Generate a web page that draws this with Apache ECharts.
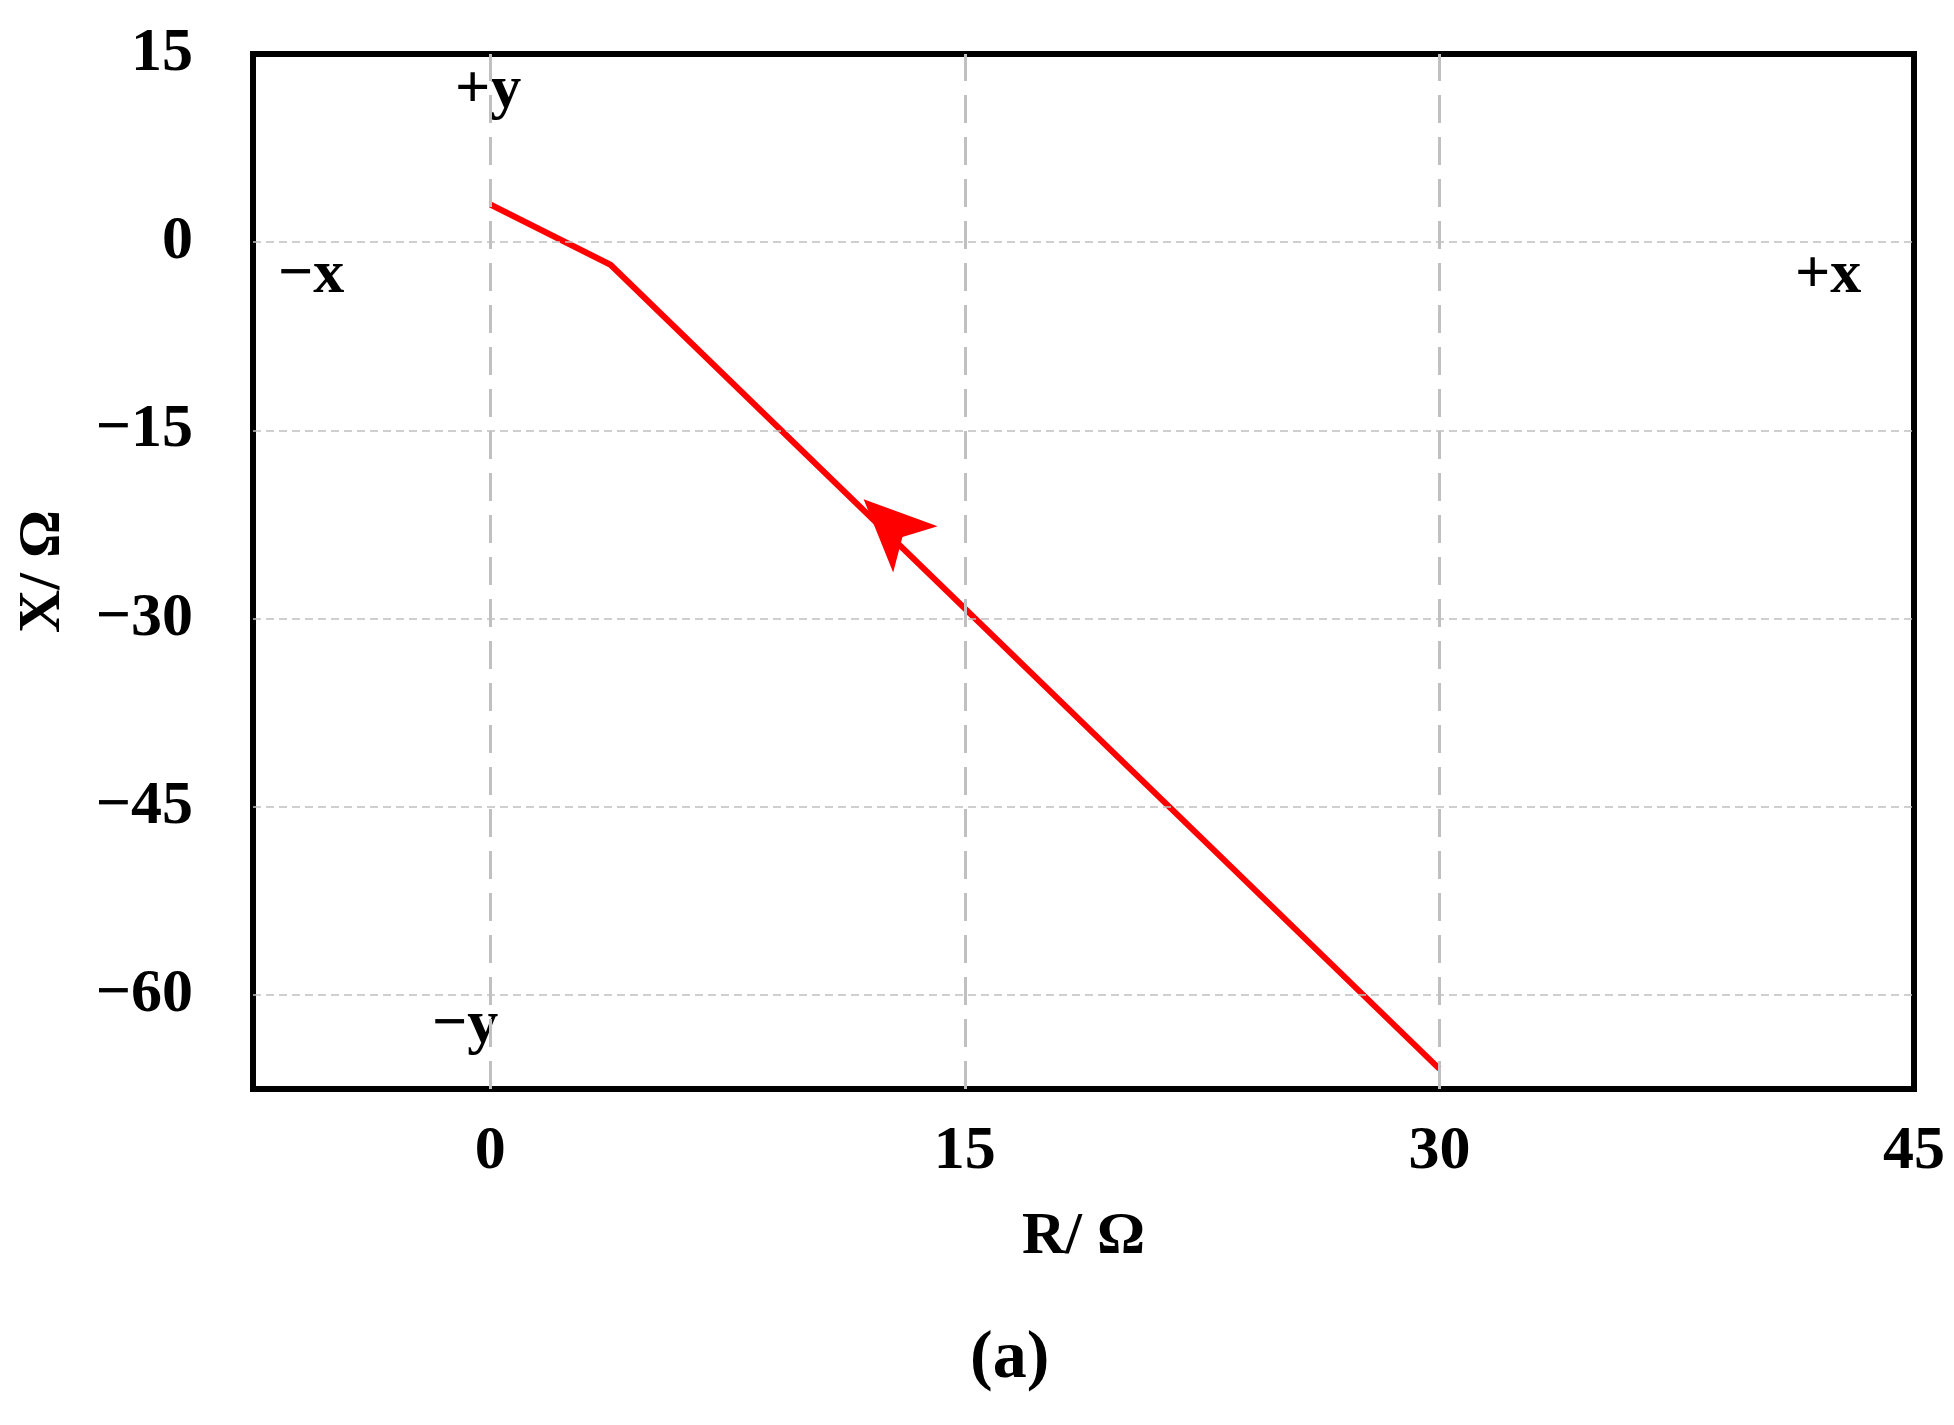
<!DOCTYPE html>
<html><head><meta charset="utf-8">
<script src="https://cdn.jsdelivr.net/npm/echarts@6/dist/echarts.min.js"></script>
<style>html,body{margin:0;padding:0;background:#fff}#c{width:1954px;height:1425px}</style>
</head><body><div id="c"></div>
<script>
const xTicks = [0, 15, 30, 45];
const yTicks = [15, 0, -15, -30, -45, -60];
const curveR = [0, 3.8, 30];
const curveX = [3.0, -1.8, -65.9];
const arrowPoint = [11.8, -20.5];
const xGrid = [0, 15, 30];
const yGrid = [0, -15, -30, -45, -60];

const F = '"Liberation Serif","Times New Roman",serif';
const chart = echarts.init(document.getElementById('c'));
const fmt = v => (Math.abs(v % 15) < 1e-9 ? String(v).replace('-', '\u2212') : '');
chart.setOption({
  animation: false,
  grid: { left: 253, right: 40, top: 54, bottom: 336, show: true, borderColor: '#000', borderWidth: 6, backgroundColor: 'transparent' },
  xAxis: {
    type: 'value', min: -7.5, max: 45, interval: 7.5,
    axisLine: { show: false }, axisTick: { show: false }, splitLine: { show: false },
    axisLabel: { formatter: fmt, margin: 32, fontFamily: F, fontWeight: 'bold', fontSize: 62, color: '#000' },
    name: 'R/ Ω', nameLocation: 'middle', nameGap: 118,
    nameTextStyle: { fontFamily: F, fontWeight: 'bold', fontSize: 60, color: '#000' }
  },
  yAxis: {
    type: 'value', min: -67.5, max: 15, interval: 7.5,
    axisLine: { show: false }, axisTick: { show: false }, splitLine: { show: false },
    axisLabel: { formatter: fmt, margin: 60, fontFamily: F, fontWeight: 'bold', fontSize: 62, color: '#000' },
    name: 'X/ Ω', nameLocation: 'middle', nameGap: 180,
    nameTextStyle: { fontFamily: F, fontWeight: 'bold', fontSize: 60, color: '#000' }
  },
  series: [
    { type: 'line', data: [], silent: true,
      markLine: { symbol: 'none', silent: true, label: { show: false },
        data: xGrid.map(v => ({ xAxis: v, lineStyle: { color: '#c0c0c0', width: 3, type: [28, 14] } }))
          .concat(yGrid.map(v => ({ yAxis: v, lineStyle: { color: '#c0c0c0', width: 1.5, type: [8, 5] } }))) } },
    { type: 'line', data: curveR.map((r, i) => [r, curveX[i]]), symbol: 'none',
      lineStyle: { color: '#ff0000', width: 6 } },
    { type: 'scatter', data: [arrowPoint], symbol: 'arrow', symbolSize: [48, 72], symbolRotate: 46,
      itemStyle: { color: '#ff0000', opacity: 1 } }
  ],
  graphic: [
    { type: 'text', left: 455, top: 60, style: { text: '+y', font: 'bold 62px ' + F, fill: '#000' } },
    { type: 'text', left: 278, top: 245, style: { text: '\u2212x', font: 'bold 62px ' + F, fill: '#000' } },
    { type: 'text', left: 1795, top: 245, style: { text: '+x', font: 'bold 62px ' + F, fill: '#000' } },
    { type: 'text', left: 432, top: 995, style: { text: '\u2212y', font: 'bold 62px ' + F, fill: '#000' } },
    { type: 'text', left: 970, top: 1325, style: { text: '(a)', font: 'bold 68px ' + F, fill: '#000' } }
  ]
});
</script></body></html>
